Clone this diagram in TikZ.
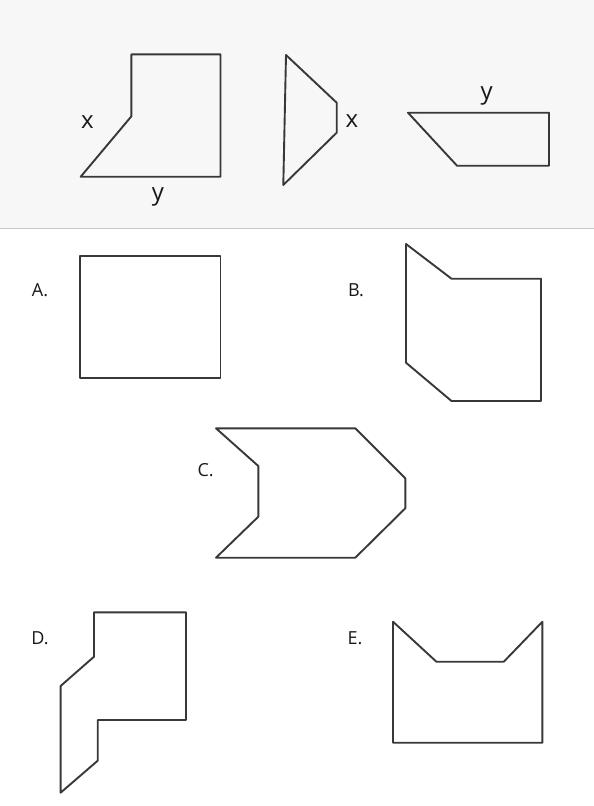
\documentclass[tikz,border=0pt]{standalone}
\usepackage{fontspec}
\setmainfont{Open Sans}
\tikzset{
  piece/.style={draw=black!78, line width=1.9pt, line join=round},
  letter/.style={font=\fontsize{18}{18}\selectfont, text=black!90, inner sep=0pt},
  side/.style={font=\fontsize{24}{24}\selectfont, text=black!90, inner sep=0pt}
}
\begin{document}
\begin{tikzpicture}[x=1pt, y=-1pt]
    \useasboundingbox (0,0) rectangle (594,806);
    \fill[black!3] (0,0) rectangle (594,228.5);
    \draw[black!22, line width=1pt] (0,228.5) -- (594,228.5);
    % the three given pieces
    \draw[piece] (131.4,54.3) -- (220.5,54.3) -- (220.5,176.7) -- (80.7,176.7) -- (131.4,116.3) -- cycle;
    \node[side] (x1) at (87.5,122) {x};
    \node[side] (y1) at (158,197) {y};
    \draw[piece] (286,55) -- (336.7,102.7) -- (336.7,132.7) -- (283.3,185) -- cycle;
    \node[side] (x2) at (352,121) {x};
    \draw[piece] (408,112.7) -- (549,112.7) -- (549,165.7) -- (457,165.7) -- cycle;
    \node[side] (y2) at (486.7,96) {y};
    % answers
    \node[letter] (lA) at (40,290) {A.};
    \draw[piece] (80,255.7) rectangle (220.5,378.3);
    \node[letter] (lB) at (356,290) {B.};
    \draw[piece] (406,244) -- (451.5,278.7) -- (541,278.7) -- (541,401) -- (451.5,401) -- (406,362.7) -- cycle;
    \node[letter] (lC) at (205.7,470) {C.};
    \draw[piece] (216,428.3) -- (355.3,428.3) -- (405.3,478.3) -- (405.3,508.3) -- (355.3,557.7) -- (216,557.7) -- (258.3,516.7) -- (258.3,466) -- cycle;
    \node[letter] (lD) at (40,638) {D.};
    \draw[piece] (94,612.3) -- (186,612.3) -- (186,720) -- (97.7,720) -- (97.7,760.7) -- (60.6,792.7) -- (60.6,686) -- (94,656.7) -- cycle;
    \node[letter] (lE) at (355,638) {E.};
    \draw[piece] (393,621.7) -- (436.4,661.7) -- (503.8,661.7) -- (542.4,621.7) -- (542.4,742.7) -- (393,742.7) -- cycle;
\end{tikzpicture}
\end{document}
